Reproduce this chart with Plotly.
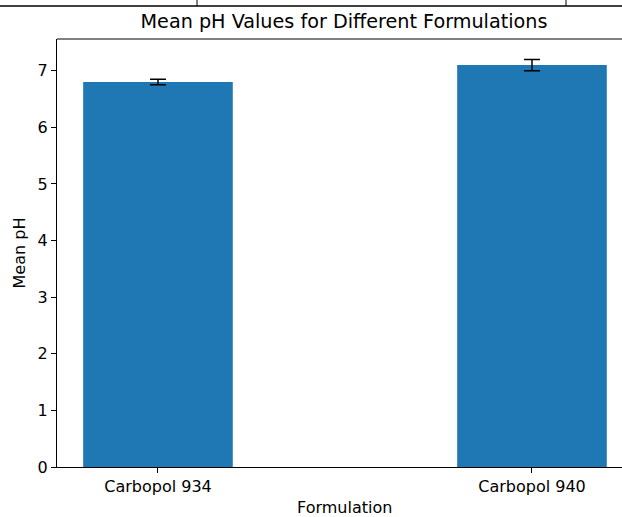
import plotly.graph_objects as go

formulations = ["Carbopol 934", "Carbopol 940"]
mean_ph = [6.80, 7.10]
ph_err = [0.05, 0.10]

W, H = 622, 517
L, R, T, B = 57, 0, 39, 50

fig = go.Figure()
fig.add_trace(go.Bar(
    x=[0, 1], y=mean_ph, width=0.4,
    marker=dict(color="#1f77b4", line=dict(width=0)),
    error_y=dict(type="data", array=ph_err, visible=True,
                 color="black", thickness=1.5, width=8),
))

font = "DejaVu Sans, Arial, sans-serif"


def px_x(v):
    return (v - L) / (W - L - R)


def px_y(v):
    return 1 - (v - T) / (H - T - B)


fig.update_layout(
    width=W, height=H,
    margin=dict(l=L, r=R, t=T, b=B, pad=0),
    paper_bgcolor="white", plot_bgcolor="white",
    showlegend=False,
    font=dict(family=font, size=16, color="black"),
    title=dict(text="Mean pH Values for Different Formulations",
               x=px_x(344), xref="paper", xanchor="center",
               y=1 - 21 / H, yanchor="middle",
               font=dict(size=19.2, color="black", family=font)),
    xaxis=dict(range=[-0.27, -0.27 + (W - L - R) / 374.0],
               tickvals=[0, 1], ticktext=formulations,
               showline=True, linecolor="black", linewidth=1,
               ticks="outside", ticklen=5, tickcolor="black",
               showgrid=False, zeroline=False),
    yaxis=dict(range=[0, 7.56], tickvals=list(range(0, 8)),
               showline=True, linecolor="black", linewidth=1,
               ticks="outside", ticklen=5, tickcolor="black",
               showgrid=False, zeroline=False,
               title=dict(text="Mean pH", standoff=8,
                          font=dict(size=16, family=font))),
)

# x-axis title centred on the full (uncropped) axes width
fig.add_annotation(text="Formulation", xref="paper", yref="paper",
                   x=px_x(344), y=px_y(508), xanchor="center", yanchor="middle",
                   showarrow=False, font=dict(size=16, family=font, color="black"))

# top spine of the axes (right spine lies outside the cropped picture)
fig.add_shape(type="line", xref="paper", yref="paper", x0=0, x1=1, y0=1, y1=1,
              line=dict(color="black", width=1))

# thin table-border lines visible at the very top of the reference image
fig.add_shape(type="line", xref="paper", yref="paper",
              x0=px_x(0), x1=px_x(W), y0=px_y(6), y1=px_y(6),
              line=dict(color="black", width=1.5))
for xv in (197, 566):
    fig.add_shape(type="line", xref="paper", yref="paper",
                  x0=px_x(xv), x1=px_x(xv), y0=px_y(0), y1=px_y(6),
                  line=dict(color="black", width=1))

fig.write_html("out.html", config={"displayModeBar": False},
               post_script="document.body.style.margin='0px';document.body.style.overflow='hidden';")
